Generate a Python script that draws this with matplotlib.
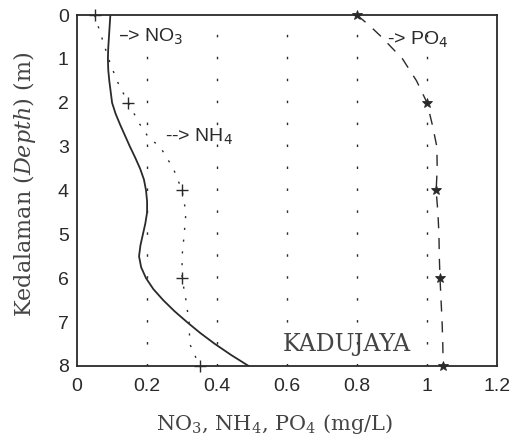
import numpy as np
import matplotlib.pyplot as plt

plt.rcParams['mathtext.fontset'] = 'dejavuserif'

# measured depths (m) and values (mg/L)
depth_pts = [0, 2, 4, 6, 8]
nh4_pts = [0.05, 0.146, 0.30, 0.30, 0.35]
po4_pts = [0.80, 1.00, 1.026, 1.037, 1.046]

# smooth profile curves
no3_depth = [0, 0.25, 0.5, 0.75, 1, 1.25, 1.5, 1.75, 2, 2.25, 2.5, 2.75, 3, 3.25,
             3.5, 3.75, 4, 4.25, 4.5, 4.75, 5, 5.25, 5.5, 5.75, 6, 6.25, 6.5,
             6.75, 7, 7.25, 7.5, 7.75, 8]
no3_curve = [0.095, 0.093, 0.091, 0.089, 0.088, 0.089, 0.092, 0.096, 0.10, 0.11,
             0.123, 0.137, 0.151, 0.166, 0.18, 0.191, 0.197, 0.20, 0.20, 0.195,
             0.188, 0.181, 0.177, 0.183, 0.197, 0.218, 0.246, 0.278, 0.314,
             0.352, 0.394, 0.44, 0.49]

nh4_depth = [0, 0.5, 1, 1.5, 2, 2.5, 2.8, 3, 3.5, 4, 4.5, 5, 5.5, 6, 6.5, 7, 7.5, 8]
nh4_curve = [0.05, 0.07, 0.09, 0.114, 0.146, 0.18, 0.205, 0.237, 0.275, 0.30,
             0.311, 0.306, 0.30, 0.30, 0.311, 0.32, 0.322, 0.35]

po4_depth = [0, 0.25, 0.5, 1, 1.5, 2, 2.5, 3, 3.5, 4, 4.5, 5, 5.5, 6, 6.5, 7, 7.5, 8]
po4_curve = [0.80, 0.837, 0.87, 0.93, 0.97, 1.0, 1.015, 1.028, 1.029, 1.026,
             1.031, 1.034, 1.035, 1.037, 1.04, 1.043, 1.045, 1.046]

xticks = [0, 0.2, 0.4, 0.6, 0.8, 1.0, 1.2]
xticklabels = ['0', '0.2', '0.4', '0.6', '0.8', '1', '1.2']
yticks = [0, 1, 2, 3, 4, 5, 6, 7, 8]

ink = '#2a2a2a'
soft = '#444444'

fig = plt.figure(figsize=(5.14, 4.43), dpi=100)
ax = fig.add_axes([0.150, 0.174, 0.817, 0.792])

# dotted vertical grid
for gx in xticks[1:-1]:
    ax.axvline(gx, color=ink, lw=1.0, linestyle=(0, (1.8, 14)), zorder=1)

ax.plot(no3_curve, no3_depth, color=ink, lw=1.3, zorder=3)
ax.plot(nh4_curve, nh4_depth, color=ink, lw=1.0, linestyle=(0, (1.5, 7)), zorder=3)
ax.plot(nh4_pts, depth_pts, '+', color=ink, ms=8, mew=1.0, zorder=4, clip_on=False)
ax.plot(po4_curve, po4_depth, color=ink, lw=1.0, linestyle=(0, (8, 7)), zorder=3)
ax.plot(po4_pts, depth_pts, '*', color=ink, ms=7, mew=0.6, zorder=4, clip_on=False)

sans = 'Liberation Sans'
ax.text(0.117, 0.5, '\u2013> NO$_3$', fontsize=14, family=sans, color=ink,
        va='center', math_fontfamily='dejavusans')
ax.text(0.25, 2.77, '--> NH$_4$', fontsize=14, family=sans, color=ink,
        va='center', math_fontfamily='dejavusans')
ax.text(0.885, 0.57, '-> PO$_4$', fontsize=14, family=sans, color=ink,
        va='center', math_fontfamily='dejavusans')
ax.text(0.77, 7.52, 'KADUJAYA', fontsize=17, family='DejaVu Serif', color=soft,
        va='center', ha='center')

ax.set_xlim(0, 1.2)
ax.set_ylim(8, 0)
ax.set_xticks(xticks)
ax.set_xticklabels(xticklabels)
ax.set_yticks(yticks)
ax.tick_params(direction='in', length=0, labelsize=14, colors=ink)
ax.tick_params(axis='x', pad=9)
ax.tick_params(axis='y', pad=6)
for lab in ax.get_xticklabels() + ax.get_yticklabels():
    lab.set_family(sans)
for sp in ax.spines.values():
    sp.set_color(ink)
    sp.set_linewidth(1.3)

ax.set_xlabel('NO$_3$, NH$_4$, PO$_4$ (mg/L)', fontsize=15, family='DejaVu Serif',
              color=soft)
ax.set_ylabel('Kedalaman ($\\mathit{Depth}$) (m)', fontsize=16, family='DejaVu Serif',
              color=soft)
ax.xaxis.set_label_coords(0.471, -0.13)
ax.yaxis.set_label_coords(-0.094, 0.516)

fig.savefig('out.png', dpi=100)
